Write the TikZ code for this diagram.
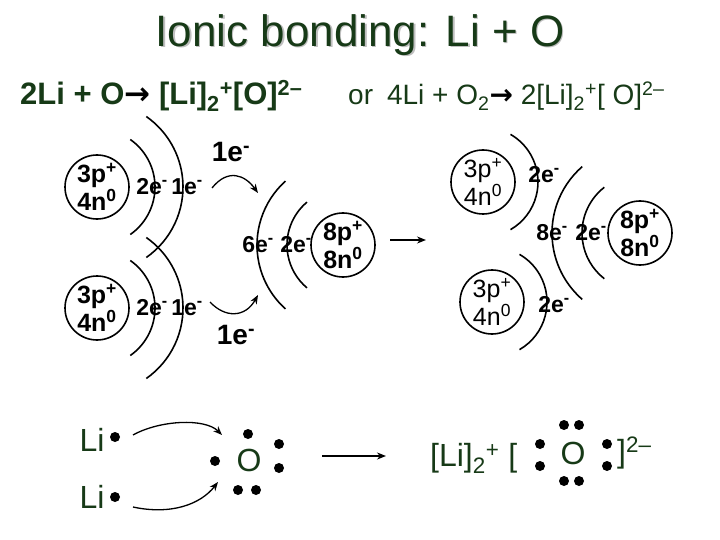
\documentclass[tikz,border=0pt]{standalone}
\usepackage{fontspec}
\setmainfont{Liberation Sans}
\newfontfamily\arrowfont{DejaVu Sans}
\usetikzlibrary{arrows.meta}
\definecolor{ttlgreen}{HTML}{173A17}
\tikzset{
    nucleus/.style={circle, draw, line width=1.6pt, minimum size=64pt, inner sep=0pt, align=center, font=\fontsize{25}{22}\selectfont\bfseries}, % kern
    nucleus light/.style={nucleus, font=\fontsize{25}{22}\selectfont},
    shell/.style={line width=1.6pt},
    elabel/.style={font=\fontsize{23}{23}\selectfont\bfseries, inner sep=0pt},
    edot/.style={circle, fill, inner sep=0pt, minimum size=10pt},
    sym/.style={text=ttlgreen, font=\fontsize{32}{32}\selectfont, inner sep=0pt},
    flow/.style={-{Stealth[length=9pt,width=7pt]}, line width=1.6pt}
}
\newcommand{\el}[1]{#1e\textsuperscript{-}}
\newcommand{\yields}{{\arrowfont\bfseries\color{black}→}}
\begin{document}
\begin{tikzpicture}[x=1pt, y=-1pt]
  \useasboundingbox (0,0) rectangle (720,540);
  % titel
  \node[text=gray!50, font=\fontsize{44}{44}\selectfont] at (361.5,36.5) {Ionic bonding: Li + O};
  \node[text=ttlgreen, font=\fontsize{44}{44}\selectfont] (title) at (360,35) {Ionic bonding: Li + O};
  \node[anchor=base west, text=ttlgreen, font=\fontsize{31}{31}\selectfont\bfseries, inner sep=0pt] (eqa) at (20,105)
    {2Li + O\yields\ [Li]\textsubscript{2}\textsuperscript{+}[O]\textsuperscript{2\textendash}};
  \node[anchor=base west, text=ttlgreen, font=\fontsize{28}{28}\selectfont, inner sep=0pt] (eqb) at (348,105)
    {or\enspace 4Li + O\textsubscript{2}\yields\ 2[Li]\textsubscript{2}\textsuperscript{+}[ O]\textsuperscript{2\textendash}};

  % links: Li, Li, O
  \foreach \n/\y in {lia/187, lib/308} {
      \node[nucleus] (\n) at (97,\y) {3p\textsuperscript{+}\\4n\textsuperscript{0}};
      \draw[shell] (\n.center) ++(-55:58pt) arc[start angle=-55, end angle=55, radius=58pt];
      \draw[shell] (\n.center) ++(-55:86pt) arc[start angle=-55, end angle=55, radius=86pt];
      \node[elabel] at (152,\y) {\el{2}};
      \node[elabel] at (187,\y) {\el{1}};
  }
  \node[nucleus] (oa) at (343,245) {8p\textsuperscript{+}\\8n\textsuperscript{0}};
  \draw[shell] (oa.center) ++(130:56pt) arc[start angle=130, end angle=230, radius=56pt];
  \draw[shell] (oa.center) ++(132:86pt) arc[start angle=132, end angle=228, radius=86pt];
  \node[elabel] at (258,245) {\el{6}};
  \node[elabel] at (296,245) {\el{2}};

  \coordinate (ta) at (212,188); \coordinate (tb) at (258,193);
  \coordinate (ba) at (210,302); \coordinate (bb) at (258,295);
  \draw[flow, line width=1.3pt] (ta) .. controls (228,168) and (245,175) .. (tb);
  \draw[flow, line width=1.3pt] (ba) .. controls (225,318) and (245,318) .. (bb);
  \node[elabel, font=\fontsize{28}{28}\selectfont\bfseries] at (231,152) {\el{1}};
  \node[elabel, font=\fontsize{28}{28}\selectfont\bfseries] at (236,335) {\el{1}};

  \coordinate (ma) at (390,240); \coordinate (mb) at (426,240);
  \draw[flow] (ma) -- (mb);

  % rechts
  \foreach \n/\x/\y in {lic/483/182, lid/492/302} {
      \node[nucleus light] (\n) at (\x,\y) {3p\textsuperscript{+}\\4n\textsuperscript{0}};
      \draw[shell] (\n.center) ++(-60:55pt) arc[start angle=-60, end angle=60, radius=55pt];
  }
  \node[elabel] at (544,175) {\el{2}};
  \node[elabel] at (554,305) {\el{2}};
  \node[nucleus] (ob) at (640,233) {8p\textsuperscript{+}\\8n\textsuperscript{0}};
  \draw[shell] (ob.center) ++(128:58pt) arc[start angle=128, end angle=232, radius=58pt];
  \draw[shell] (ob.center) ++(131:88pt) arc[start angle=131, end angle=229, radius=88pt];
  \node[elabel] at (552,233) {\el{8}};
  \node[elabel] at (591,233) {\el{2}};

  % Lewis
  \node[sym] (li1) at (92,440) {Li};
  \node[sym] (li2) at (92,497) {Li};
  \node[edot] at (115,437) {};
  \node[edot] at (115,497) {};
  \node[sym] (ox) at (249,460) {O};
  \foreach \x/\y in {248/434, 215/461, 279/444, 279/468, 238/490, 256/490}
      \node[edot] at (\x,\y) {};
  \coordinate (la) at (133,435); \coordinate (lb) at (222,435);
  \coordinate (lc) at (133,507); \coordinate (ld) at (218,482);
  \draw[flow, line width=1.3pt] (la) .. controls (160,420) and (205,418) .. (lb);
  \draw[flow, line width=1.3pt] (lc) .. controls (170,515) and (200,505) .. (ld);
  \coordinate (na) at (322,456); \coordinate (nb) at (386,456);
  \draw[flow] (na) -- (nb);

  \node[sym, anchor=west] (ion) at (430,458) {[Li]\textsubscript{2}\textsuperscript{+} [};
  \node[sym] (ox2) at (573,453) {O};
  \foreach \x/\y in {540/444, 540/466, 607/444, 607/466, 564/425, 579/425, 564/481, 579/481}
      \node[edot] at (\x,\y) {};
  \node[sym, anchor=west] (br) at (617,453) {]\textsuperscript{2\textendash}};
\end{tikzpicture}
\end{document}
